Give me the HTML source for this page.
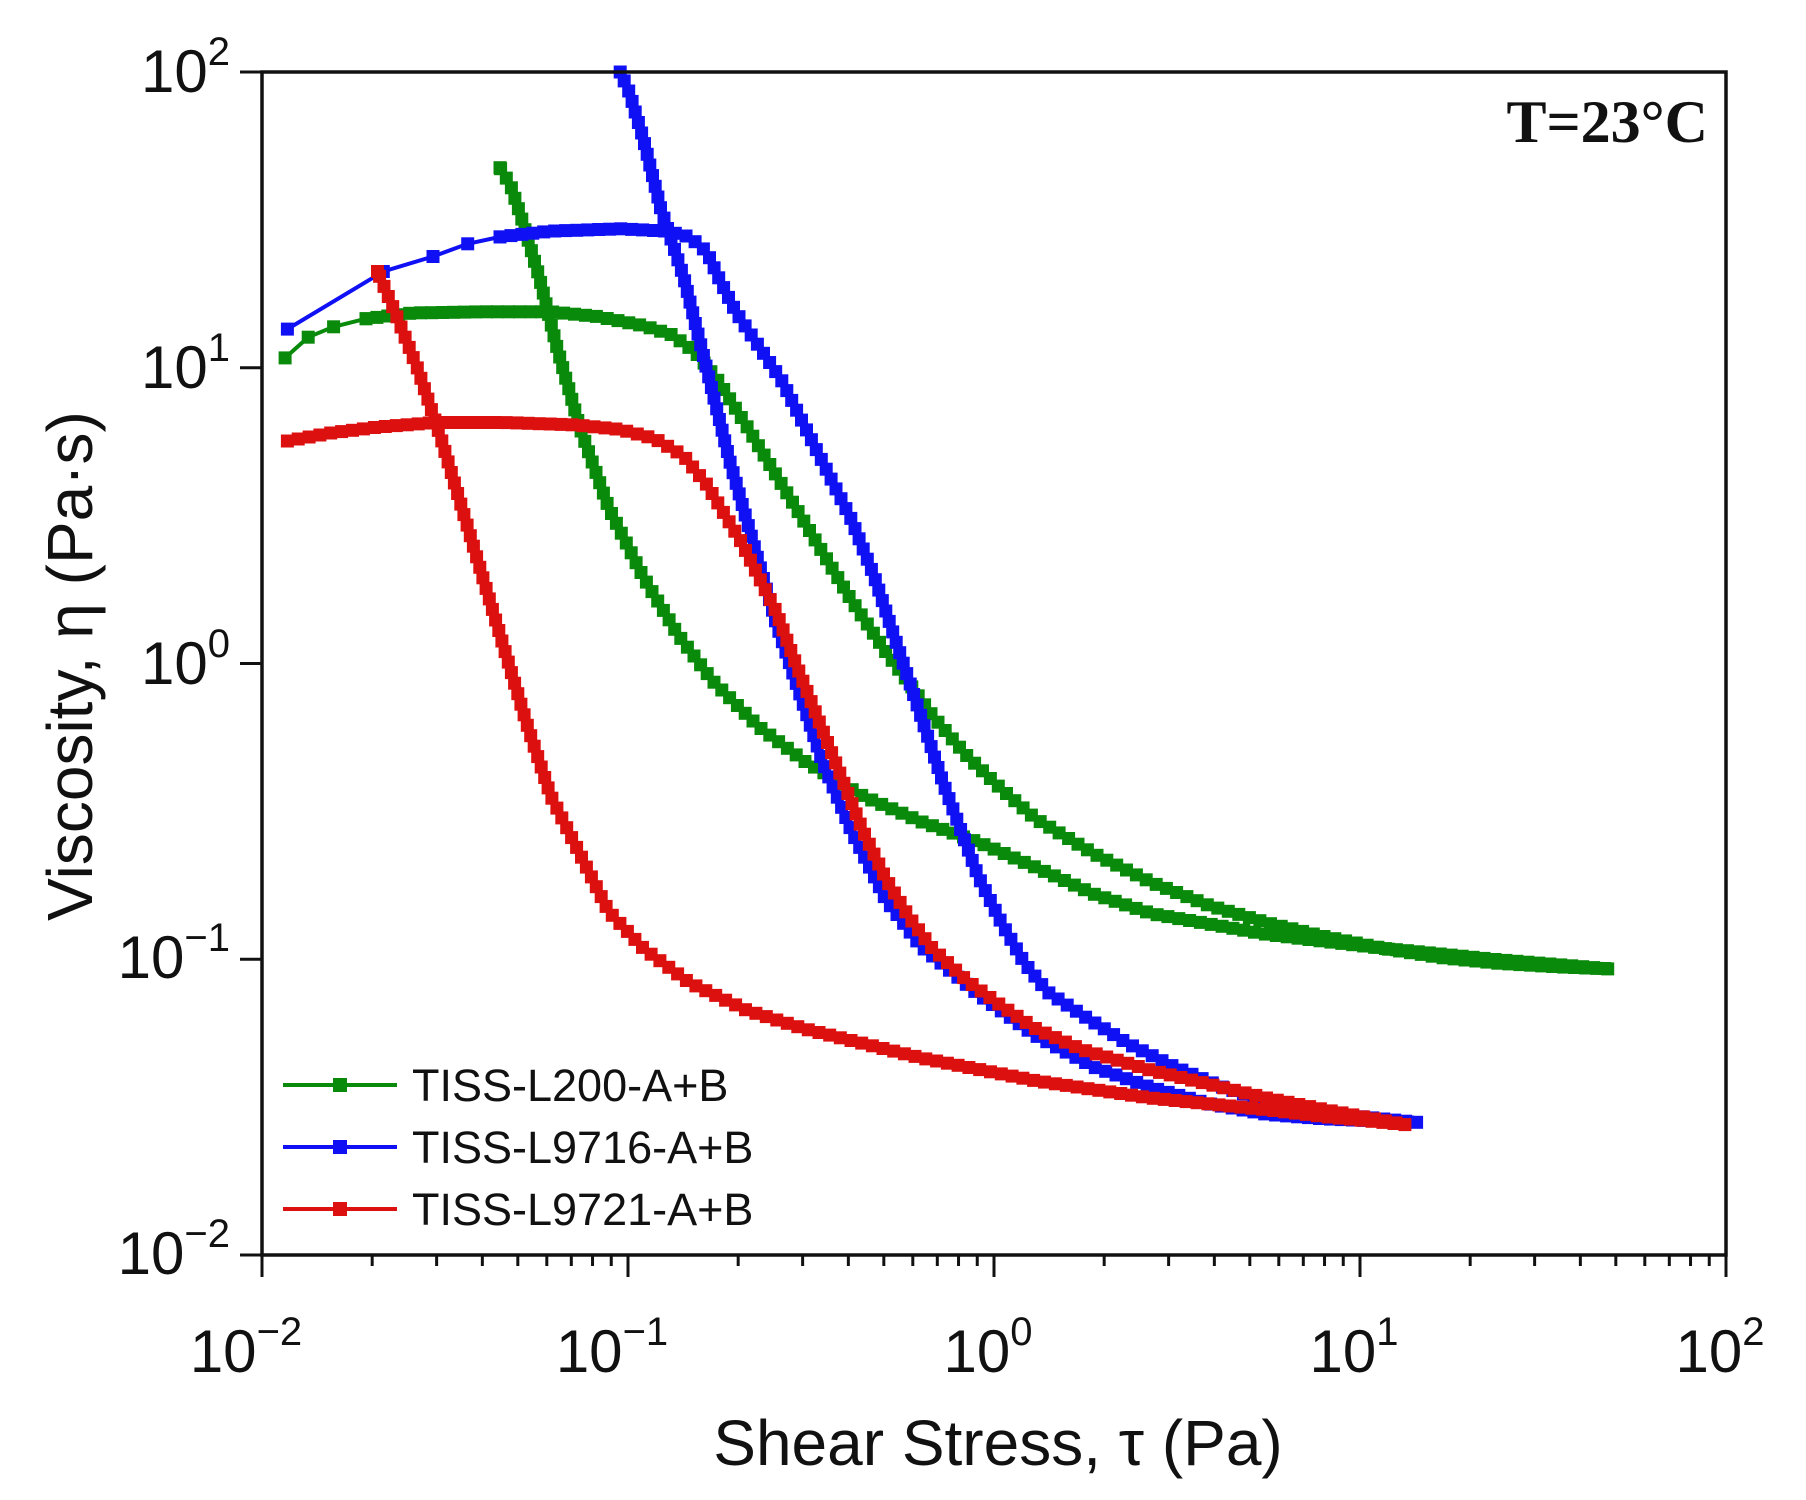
<!DOCTYPE html>
<html><head><meta charset="utf-8"><style>
html,body{margin:0;padding:0;background:#fff;}
svg{display:block;}
text{font-family:"Liberation Sans",sans-serif;fill:#111;}
</style></head><body>
<svg id="s" width="1806" height="1500" xmlns="http://www.w3.org/2000/svg">
<rect x="0" y="0" width="1806" height="1500" fill="#fff"/>
<g id="series"></g>
<rect x="262" y="72" width="1464" height="1183" fill="none" stroke="#111" stroke-width="3.5"/>
<g id="ticks" stroke="#111" stroke-width="3"></g>
<g font-size="60">
<text x="246" y="1372" text-anchor="middle">10<tspan font-size="40" dy="-27">−2</tspan></text>
<text x="612" y="1372" text-anchor="middle">10<tspan font-size="40" dy="-27">−1</tspan></text>
<text x="988" y="1372" text-anchor="middle">10<tspan font-size="40" dy="-27">0</tspan></text>
<text x="1354" y="1372" text-anchor="middle">10<tspan font-size="40" dy="-27">1</tspan></text>
<text x="1720" y="1372" text-anchor="middle">10<tspan font-size="40" dy="-27">2</tspan></text>
<text x="230" y="1274" text-anchor="end">10<tspan font-size="40" dy="-27">−2</tspan></text>
<text x="230" y="978" text-anchor="end">10<tspan font-size="40" dy="-27">−1</tspan></text>
<text x="230" y="684" text-anchor="end">10<tspan font-size="40" dy="-27">0</tspan></text>
<text x="230" y="388" text-anchor="end">10<tspan font-size="40" dy="-27">1</tspan></text>
<text x="230" y="92" text-anchor="end">10<tspan font-size="40" dy="-27">2</tspan></text>
</g>
<text x="998" y="1465" text-anchor="middle" font-size="64">Shear Stress, τ (Pa)</text>
<text transform="translate(92,666) rotate(-90)" text-anchor="middle" font-size="64">Viscosity, η (Pa·s)</text>
<text x="1708" y="142" text-anchor="end" font-size="60" font-weight="bold" style="font-family:'Liberation Serif',serif">T=23°C</text>
<g font-size="45">
<line x1="283" y1="1085" x2="397" y2="1085" stroke="#0a8a0a" stroke-width="4"/><rect x="333" y="1078" width="14" height="14" fill="#0a8a0a"/>
<text x="412" y="1101">TISS-L200-A+B</text>
<line x1="283" y1="1147" x2="397" y2="1147" stroke="#1010f5" stroke-width="4"/><rect x="333" y="1140" width="14" height="14" fill="#1010f5"/>
<text x="412" y="1163">TISS-L9716-A+B</text>
<line x1="283" y1="1209" x2="397" y2="1209" stroke="#dd1010" stroke-width="4"/><rect x="333" y="1202" width="14" height="14" fill="#dd1010"/>
<text x="412" y="1225">TISS-L9721-A+B</text>
</g>
</svg>
<script>
(function(){
function X(l){return 262+366*(l+2);}
function Y(l){return 1255-295.75*(l+2);}
function cv(p){var lx=(p[0]-230)/316.75-2, ly=2-(p[1]-62)/256.5;return [X(lx),Y(ly)];}
var tk=document.getElementById('ticks'),h='';
for(var d=-2;d<=2;d++){
 h+='<line x1="'+X(d)+'" y1="1255" x2="'+X(d)+'" y2="1277"/>';
 h+='<line x1="262" y1="'+Y(d)+'" x2="240" y2="'+Y(d)+'"/>';
 if(d<2)for(var k=2;k<10;k++){var lx=d+Math.log10(k);h+='<line x1="'+X(lx)+'" y1="1255" x2="'+X(lx)+'" y2="1266"/>';}
}
tk.innerHTML=h;
var series=[
{c:"#0a8a0a",sp:4,p:[[250,310],[270,292],[292,283],[320,276],[360,271],[420,270],[480,270],[520,274],[560,282],[585,290],[605,305],[625,330],[650,370],[680,420],[710,470],[740,520],[770,565],[790,592],[810,620],[840,655],[870,684],[900,710],[950,740],[1000,765],[1050,785],[1100,800],[1150,812],[1200,822],[1250,830],[1300,835],[1350,838],[1398,840],[1300,832],[1200,822],[1100,810],[1000,792],[950,775],[900,752],[850,730],[800,712],[750,690],[700,660],[660,630],[620,590],[590,550],[560,500],[530,440],[505,370],[485,300],[470,240],[455,190],[445,160],[436,145]]},
{c:"#1010f5",sp:5,p:[[252,285],[335,235],[378,222],[408,211],[436,205],[480,200],[540,198],[580,200],[600,205],[615,218],[625,240],[640,270],[660,300],[680,330],[700,370],[720,410],[740,450],[760,500],[780,560],[800,620],[820,680],[835,720],[850,760],[870,800],[890,835],[910,860],[940,880],[980,905],[1020,925],[1060,942],[1100,955],[1150,965],[1230,973],[1150,970],[1100,966],[1050,957],[1000,943],[950,925],[900,898],[850,862],[800,820],[770,780],[740,720],[715,660],[695,600],[675,540],[655,470],[635,400],[615,320],[595,240],[575,180],[560,120],[548,80],[540,62]]},
{c:"#dd1010",sp:0,p:[[252,382],[290,375],[330,370],[380,366],[440,366],[500,368],[540,372],[570,380],[595,395],[615,420],[630,445],[645,470],[660,500],[675,530],[690,570],[710,620],[730,670],[750,720],[770,762],[790,795],[810,822],[840,850],[870,872],[900,892],[940,910],[1000,928],[1050,940],[1100,952],[1150,962],[1220,975],[1150,968],[1100,962],[1000,952],[900,937],[800,917],[700,892],[650,876],[600,852],[560,822],[530,790],[505,740],[480,690],[460,630],[445,580],[430,530],[415,480],[400,430],[385,380],[365,320],[345,270],[330,235]]}
];
var g=document.getElementById('series'),out='';
series.forEach(function(s){
 var pts=s.p.map(cv);
 out+='<polyline fill="none" stroke="'+s.c+'" stroke-width="4" points="'+pts.map(function(q){return q[0].toFixed(1)+','+q[1].toFixed(1)}).join(' ')+'"/>';
 var m=[];
 for(var i=0;i<s.sp;i++)m.push(pts[i]);
 var acc=0;
 for(var i=Math.max(s.sp-1,0);i<pts.length-1;i++){
  var a=pts[i],b=pts[i+1],dx=b[0]-a[0],dy=b[1]-a[1],L=Math.sqrt(dx*dx+dy*dy),t=acc;
  while(t<L){m.push([a[0]+dx*t/L,a[1]+dy*t/L]);t+=11;}
  acc=t-L;
 }
 m.push(pts[pts.length-1]);
 m.forEach(function(q){out+='<rect x="'+(q[0]-6.5).toFixed(1)+'" y="'+(q[1]-6.5).toFixed(1)+'" width="13" height="13" fill="'+s.c+'"/>';});
});
g.innerHTML=out;
})();
</script>
</body></html>
